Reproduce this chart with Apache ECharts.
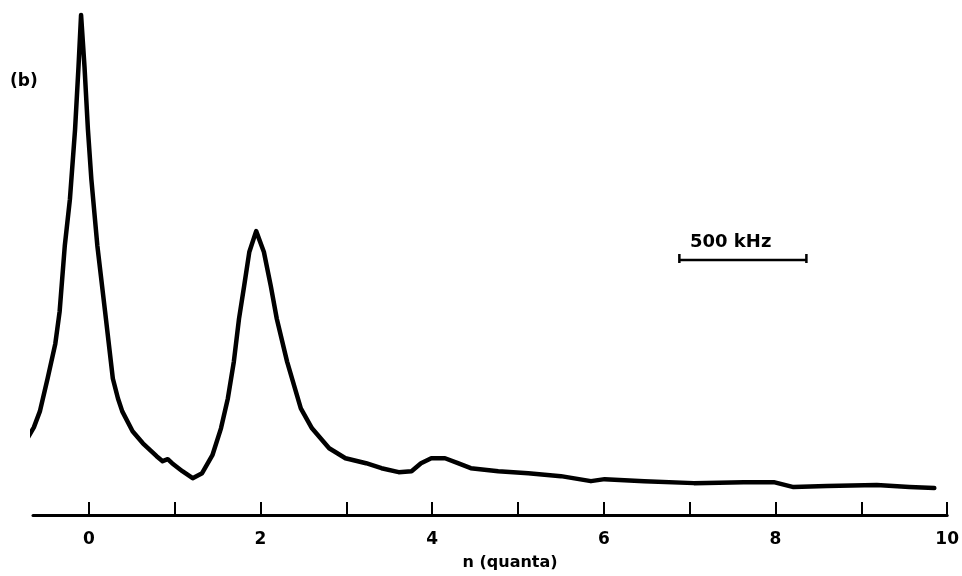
<!DOCTYPE html>
<html>
<head>
<meta charset="utf-8">
<script src="https://cdn.jsdelivr.net/npm/echarts@6/dist/echarts.min.js"></script>
<style>html,body{margin:0;padding:0;background:#fff;}#c{width:962px;height:576px;}</style>
</head>
<body>
<div id="c"></div>
<script>
// n (quanta) positions along the trace
const nValues = [-0.72,-0.64,-0.57,-0.48,-0.39,-0.34,-0.28,-0.22,-0.16,-0.12,-0.09,-0.05,-0.01,0.03,0.10,0.19,0.28,0.34,0.39,0.51,0.63,0.79,0.86,0.92,0.97,1.09,1.21,1.32,1.44,1.54,1.62,1.69,1.75,1.81,1.87,1.95,2.04,2.12,2.19,2.31,2.47,2.60,2.80,2.99,3.23,3.41,3.61,3.76,3.87,3.99,4.15,4.30,4.45,4.77,5.12,5.50,5.85,6.01,6.47,7.05,7.63,7.98,8.21,8.60,9.18,9.56,9.85];
// signal intensity (arbitrary units)
const intensity = [76,88,104,137,172,204,270,317,387,450,502,450,387,337,270,204,137,117,104,84,72,59,54,56,52,44,37,42,60,87,117,154,197,230,264,285,264,230,197,154,107,87,67,57,52,47,43,44,52,57,57,52,47,44,42,39,34,36,34,32,33,33,28,29,30,28,27];
const tickValues = [0,1,2,3,4,5,6,7,8,9,10];
const labelValues = [0,2,4,6,8,10];
// 500 kHz scale bar (in n units)
const scaleBarX = [6.88, 8.36];
const scaleBarY = 256;
const scaleBarText = '500 kHz';
const panelLabel = '(b)';
const axisTitle = 'n (quanta)';

const font = 'DejaVu Sans';
const chart = echarts.init(document.getElementById('c'));
const trace = nValues.map((x, i) => [x, intensity[i]]);
const bar = [
  [scaleBarX[0], scaleBarY + 6], [scaleBarX[0], scaleBarY - 3], [scaleBarX[0], scaleBarY],
  [scaleBarX[1], scaleBarY], [scaleBarX[1], scaleBarY + 6], [scaleBarX[1], scaleBarY - 3]
];
chart.setOption({
  animation: false,
  backgroundColor: '#fff',
  grid: { left: 33, right: 11, top: 7, bottom: 59 },
  xAxis: {
    type: 'value', min: -0.65, max: 10,
    name: axisTitle, nameLocation: 'middle', nameGap: 40,
    nameTextStyle: { color: '#000', fontFamily: font, fontSize: 16, fontWeight: 'bold', padding: [0, 0, 0, 40] },
    splitLine: { show: false },
    axisLine: { lineStyle: { color: '#000', width: 3 } },
    axisTick: { show: true, inside: true, length: 13, customValues: tickValues, lineStyle: { color: '#000', width: 2 } },
    axisLabel: { customValues: labelValues, color: '#000', fontFamily: font, fontSize: 17, fontWeight: 'bold', margin: 16 }
  },
  yAxis: { type: 'value', min: 0, max: 510, show: false },
  series: [
    { type: 'line', data: trace, clip: false, showSymbol: false, smooth: false,
      lineStyle: { color: '#000', width: 4.5, join: 'round', cap: 'round' } },
    { type: 'line', data: bar, showSymbol: false,
      lineStyle: { color: '#000', width: 2.5 } }
  ],
  graphic: [
    { type: 'text', left: 10, top: 73, style: { text: panelLabel, fill: '#000', font: 'bold 17px ' + font } },
    { type: 'text', left: 690, top: 233, style: { text: scaleBarText, fill: '#000', font: 'bold 18px ' + font } }
  ]
});
</script>
</body>
</html>
